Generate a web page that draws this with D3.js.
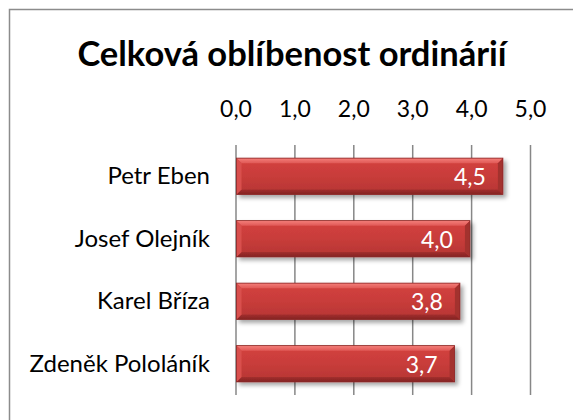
<!DOCTYPE html>
<html>
<head>
<meta charset="utf-8">
<script src="https://cdn.jsdelivr.net/npm/d3@7"></script>
<style>
  body { margin: 0; background: #fff; }
  svg { display: block; font-family: Lato, "Open Sans", sans-serif; }
</style>
</head>
<body>
<svg width="573" height="420"></svg>
<script>
// data
const categories = ["Petr Eben", "Josef Olejník", "Karel Bříza", "Zdeněk Pololáník"]
const values = [4.54, 3.98, 3.81, 3.72]
const tickValues = [0, 1, 2, 3, 4, 5]
const title = "Celková oblíbenost ordinárií"

const width = 573
const height = 420
const plot = {left: 235.5, right: 530, top: 145, bottom: 395}

const svg = d3.select('svg')
const cz = d3.formatLocale({decimal: ",", thousands: " ", grouping: [3], currency: ["", " Kč"]})
const fmt = cz.format(".1f")

// stín a přechody
const defs = svg.append('defs')
const shadow = defs.append('filter').attr('id', 'shadow')
    .attr('x', '-5%').attr('y', '-20%').attr('width', '115%').attr('height', '160%')
shadow.append('feDropShadow').attr('dx', 3).attr('dy', 3).attr('stdDeviation', 2)
    .attr('flood-color', '#000').attr('flood-opacity', 0.35)

const grad = (id, stops) => {
    const g = defs.append('linearGradient').attr('id', id)
        .attr('x1', 0).attr('y1', 0).attr('x2', 0).attr('y2', 1)
    stops.forEach(s => g.append('stop').attr('offset', s[0]).attr('stop-color', s[1]))
}
grad('body', [[0, '#d4423f'], [0.5, '#c83c3a'], [1, '#b53634']])
grad('top', [[0, '#f5807b'], [1, '#e05956']])
grad('bottom', [[0, '#a32f2e'], [1, '#842322']])

// rámeček grafu (pravá a dolní strana mimo obraz)
svg.append('rect').attr('x', 9.5).attr('y', 9.5).attr('width', 600).attr('height', 440)
    .attr('fill', '#fff').attr('stroke', '#8c8c8c').attr('stroke-width', 1.5)

svg.append('text').attr('x', 292).attr('y', 66).attr('text-anchor', 'middle')
    .attr('font-size', 34.5).attr('font-weight', 'bold').attr('fill', '#000')
    .text(title)

const x = d3.scaleLinear().domain([0, 5]).range([plot.left, plot.right])
const y = d3.scaleBand().domain(categories).range([plot.top, plot.bottom])
    .paddingInner(0.42).paddingOuter(0.21)

// osa nahoře + mřížka
const axis = svg.append('g').attr('transform', `translate(0,${plot.top})`)
    .call(d3.axisTop(x).tickValues(tickValues).tickFormat(fmt)
        .tickSizeInner(-(plot.bottom - plot.top)).tickSizeOuter(0).tickPadding(28))
axis.select('.domain').remove()
axis.selectAll('line').attr('stroke', '#878787').attr('stroke-width', 1.5)
axis.selectAll('text').attr('font-size', 23).attr('fill', '#000')
    .style('font-family', 'Lato, "Open Sans", sans-serif')

// popisky kategorií
svg.append('g').selectAll('text').data(categories).enter().append('text')
    .attr('x', 210).attr('y', d => y(d) + y.bandwidth() / 2 + 8)
    .attr('text-anchor', 'end').attr('font-size', 24).attr('fill', '#000')
    .text(d => d)

// pruhy se zkosením
const bev = 5
const bars = svg.append('g').selectAll('g').data(values).enter().append('g')
    .attr('filter', 'url(#shadow)')
bars.each(function (v, i) {
    const g = d3.select(this)
    const x0 = x(0) + 1, x1 = x(v)
    const y0 = y(categories[i]), y1 = y0 + y.bandwidth()
    g.append('rect').attr('x', x0).attr('y', y0).attr('width', x1 - x0).attr('height', y1 - y0)
        .attr('fill', 'url(#body)')
    const poly = (pts, fill) => g.append('polygon')
        .attr('points', pts.map(p => p.join(',')).join(' ')).attr('fill', fill)
    poly([[x0, y0], [x1, y0], [x1 - bev, y0 + bev], [x0 + bev, y0 + bev]], 'url(#top)')
    poly([[x0, y1], [x1, y1], [x1 - bev, y1 - bev], [x0 + bev, y1 - bev]], 'url(#bottom)')
    poly([[x0, y0], [x0 + bev, y0 + bev], [x0 + bev, y1 - bev], [x0, y1]], '#d9504d')
    poly([[x1, y0], [x1 - bev, y0 + bev], [x1 - bev, y1 - bev], [x1, y1]], '#a3302f')
    g.append('rect').attr('x', x0).attr('y', y0).attr('width', x1 - x0).attr('height', y1 - y0)
        .attr('fill', 'none').attr('stroke', '#8c2a29').attr('stroke-width', 0.8)
})

// hodnoty v pruzích
svg.append('g').selectAll('text').data(values).enter().append('text')
    .attr('x', d => x(d) - 17).attr('y', (d, i) => y(categories[i]) + y.bandwidth() / 2 + 9)
    .attr('text-anchor', 'end').attr('font-size', 23).attr('fill', '#fff')
    .text(d => fmt(d))
</script>
</body>
</html>
